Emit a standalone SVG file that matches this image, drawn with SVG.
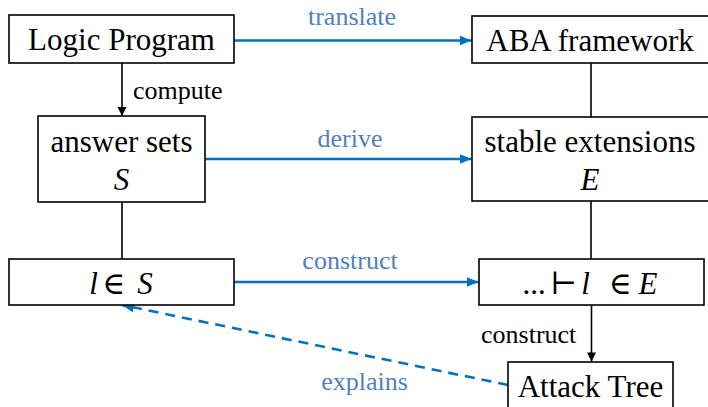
<svg xmlns="http://www.w3.org/2000/svg" width="708" height="407" viewBox="0 0 708 407">
  <defs>
    <style>
      .box { fill: #ffffff; stroke: #000000; stroke-width: 1.6; }
      .node { font-family: "Liberation Serif", "DejaVu Serif", serif; font-size: 31px; fill: #000000; text-anchor: middle; }
      .math { font-style: italic; }
      .lbl { font-family: "Liberation Serif", "DejaVu Serif", serif; font-size: 26px; }
      .blbl { fill: #4F81BD; text-anchor: middle; }
      .klbl { fill: #000000; }
      .edge { stroke: #000000; stroke-width: 1.6; fill: none; }
      .blue { stroke: #0070C0; stroke-width: 2.6; fill: none; }
      .dash { stroke-dasharray: 10 7; }
    </style>
    <marker id="ahBlue" viewBox="0 0 12 10" refX="12" refY="5" markerWidth="12" markerHeight="10" markerUnits="userSpaceOnUse" orient="auto">
      <path d="M0,0 L12,5 L0,10 Z" fill="#0070C0"/>
    </marker>
    <marker id="ahBlack" viewBox="0 0 10 10" refX="10" refY="5" markerWidth="10" markerHeight="9" markerUnits="userSpaceOnUse" orient="auto">
      <path d="M0,0 L10,5 L0,10 Z" fill="#000000"/>
    </marker>
  </defs>

  <rect width="708" height="407" fill="#ffffff"/>

  <!-- connectors -->
  <g id="connectors">
    <line class="blue" x1="234" y1="40.5" x2="471.5" y2="40.5" marker-end="url(#ahBlue)"/>
    <line class="blue" x1="205" y1="159" x2="471.5" y2="159" marker-end="url(#ahBlue)"/>
    <line class="blue" x1="234" y1="282" x2="478.5" y2="282" marker-end="url(#ahBlue)"/>
    <line class="blue dash" x1="508" y1="385" x2="122" y2="305" marker-end="url(#ahBlue)"/>
    <line class="edge" x1="122" y1="63" x2="122" y2="116" marker-end="url(#ahBlack)"/>
    <line class="edge" x1="122" y1="202" x2="122" y2="259"/>
    <line class="edge" x1="591" y1="63" x2="591" y2="117"/>
    <line class="edge" x1="591" y1="201" x2="591" y2="259"/>
    <line class="edge" x1="591.5" y1="305" x2="591.5" y2="361.5" marker-end="url(#ahBlack)"/>

    <text class="lbl blbl" x="352" y="25">translate</text>
    <text class="lbl blbl" x="350" y="146.5">derive</text>
    <text class="lbl blbl" x="350" y="269">construct</text>
    <text class="lbl blbl" x="364.5" y="390">explains</text>
    <text class="lbl klbl" x="133" y="99">compute</text>
    <text class="lbl klbl" x="481" y="343">construct</text>
  </g>

  <!-- nodes -->
  <g id="logic-program">
    <rect class="box" x="9" y="15" width="225" height="48"/>
    <text class="node" x="121.5" y="50">Logic Program</text>
  </g>

  <g id="aba-framework">
    <rect class="box" x="472" y="16" width="240" height="47"/>
    <text class="node" x="590" y="51">ABA framework</text>
  </g>

  <g id="answer-sets">
    <rect class="box" x="38" y="116" width="167" height="86"/>
    <text class="node" x="121.5" y="151.5">answer sets</text>
    <text class="node math" x="121.5" y="190">S</text>
  </g>

  <g id="stable-extensions">
    <rect class="box" x="472" y="117" width="240" height="84"/>
    <text class="node" x="590" y="151.5">stable extensions</text>
    <text class="node math" x="590" y="190">E</text>
  </g>

  <g id="literal-in-s">
    <rect class="box" x="9" y="259" width="225" height="46"/>
    <text class="node" y="294"><tspan class="math" x="93.5">l</tspan><tspan x="114">∈</tspan><tspan class="math" x="145">S</tspan></text>
  </g>

  <g id="derivation-in-e">
    <rect class="box" x="479" y="259" width="225" height="46"/>
    <text class="node" y="294"><tspan x="534">...</tspan><tspan x="563.5">⊢</tspan><tspan class="math" x="585.5">l</tspan><tspan x="620.5">∈</tspan><tspan class="math" x="648">E</tspan></text>
  </g>

  <g id="attack-tree">
    <rect class="box" x="508" y="362" width="165" height="60"/>
    <text class="node" x="590.5" y="396.5">Attack Tree</text>
  </g>
</svg>
